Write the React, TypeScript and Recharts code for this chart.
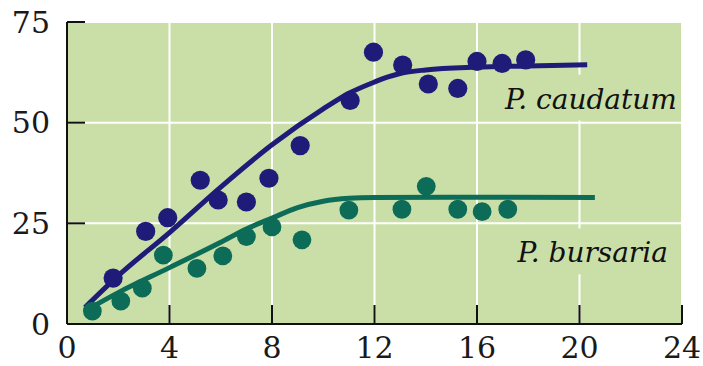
import { CartesianGrid, ComposedChart, Line, ReferenceDot, Scatter, XAxis, YAxis } from 'recharts';

// days
const xTicks = [0, 4, 8, 12, 16, 20, 24];
const yTicks = [0, 25, 50, 75];

// observed densities
const caudatumX = [1.8, 3.07, 3.93, 5.2, 5.9, 7.0, 7.88, 9.1, 11.05, 11.96, 13.1, 14.1, 15.25, 16.0, 16.98, 17.9];
const caudatumY = [11.4, 23, 26.4, 35.7, 30.8, 30.3, 36.2, 44.3, 55.5, 67.5, 64.3, 59.6, 58.5, 65.2, 64.7, 65.6];
const bursariaX = [0.99, 2.1, 2.94, 3.76, 5.07, 6.08, 7.0, 8.0, 9.17, 11.0, 13.07, 14.02, 15.25, 16.2, 17.2];
const bursariaY = [3.2, 5.7, 8.9, 17.1, 13.8, 16.9, 21.7, 24.1, 20.9, 28.3, 28.5, 34.2, 28.5, 27.9, 28.5];

// fitted curves
const caudatumFitX = [0.7, 2, 4, 6, 8, 10, 11, 12, 12.5, 13, 14, 16, 18, 20.3];
const caudatumFitY = [4.1, 12, 22.7, 34, 44.5, 53.4, 57.3, 60.1, 61.3, 62.2, 63.1, 63.8, 64.1, 64.4];
const bursariaFitX = [0.8, 2, 4, 6, 7, 8, 9, 10, 11, 12, 16, 20.6];
const bursariaFitY = [3.6, 7.8, 14, 20.3, 23.6, 26.3, 28.9, 30.5, 31.2, 31.4, 31.5, 31.4];

const zip = (xs: number[], ys: number[]) => xs.map((x, i) => ({ x, y: ys[i] }));

const caudatumPts = zip(caudatumX, caudatumY);
const bursariaPts = zip(bursariaX, bursariaY);
const caudatumFit = zip(caudatumFitX, caudatumFitY);
const bursariaFit = zip(bursariaFitX, bursariaFitY);

const BG = '#cadfa8';
const BLUE = '#1e1c78';
const GREEN = '#0c6c58';
const FONT = "'DejaVu Serif', 'Liberation Serif', serif";

const tickStyle = { fill: '#1a1a1a', fontSize: 30, style: { fontFamily: FONT } };

const speciesLabel = (text: string, boxW: number) => (props: any) => {
  const { cx, cy } = props;
  return (
    <g>
      <rect x={cx - boxW - 4} y={cy - 34} width={boxW + 6} height={46} fill={BG} />
      <text x={cx} y={cy} textAnchor="end" style={{ fontFamily: FONT, fontStyle: 'italic' }} fontSize={28} fill="#111">
        {text}
      </text>
    </g>
  );
};

export default function App() {
  return (
    <div style={{ position: 'absolute', left: 0, top: 0, width: 703, height: 366, background: '#fff', fontFamily: FONT }}>
      <ComposedChart width={703} height={366} margin={{ top: 22, right: 21, bottom: 0, left: 0 }}>
        <CartesianGrid fill={BG} stroke="#ffffff" strokeWidth={2} />
        <XAxis
          type="number"
          dataKey="x"
          domain={[0, 24]}
          ticks={xTicks}
          height={42}
          tickSize={-19}
          tickMargin={32}
          axisLine={{ stroke: '#111', strokeWidth: 2 }}
          tickLine={{ stroke: '#111', strokeWidth: 2 }}
          tick={tickStyle}
          allowDataOverflow
        />
        <YAxis
          type="number"
          dataKey="y"
          domain={[0, 75]}
          ticks={yTicks}
          width={67}
          tickSize={-18}
          tickMargin={35}
          axisLine={{ stroke: '#111', strokeWidth: 2 }}
          tickLine={{ stroke: '#111', strokeWidth: 2 }}
          tick={tickStyle}
          allowDataOverflow
        />
        <ReferenceDot x={23.8} y={53.5} r={0} shape={speciesLabel('P. caudatum', 176)} />
        <ReferenceDot x={23.45} y={15.3} r={0} shape={speciesLabel('P. bursaria', 152)} />
        <Scatter data={caudatumPts} dataKey="y" fill={BLUE} shape={(p: any) => <circle cx={p.cx} cy={p.cy} r={9.6} fill={BLUE} />} isAnimationActive={false} />
        <Scatter data={bursariaPts} dataKey="y" fill={GREEN} shape={(p: any) => <circle cx={p.cx} cy={p.cy} r={9.4} fill={GREEN} />} isAnimationActive={false} />
        <Line data={caudatumFit} dataKey="y" type="monotone" stroke={BLUE} strokeWidth={5} dot={false} activeDot={false} isAnimationActive={false} />
        <Line data={bursariaFit} dataKey="y" type="monotone" stroke={GREEN} strokeWidth={5} dot={false} activeDot={false} isAnimationActive={false} />
      </ComposedChart>
    </div>
  );
}
